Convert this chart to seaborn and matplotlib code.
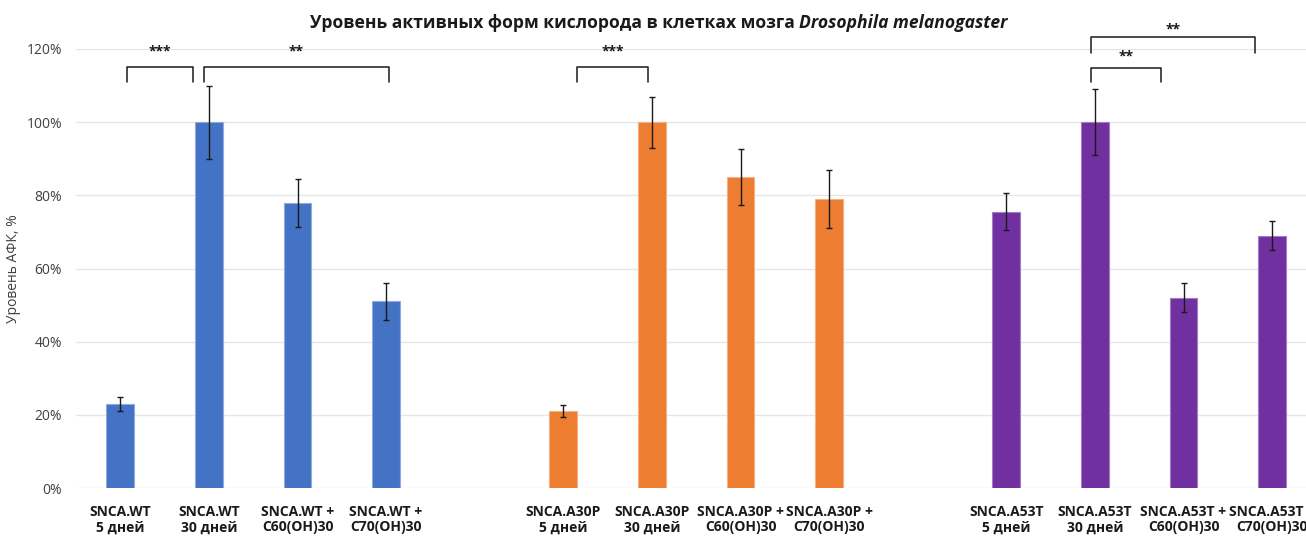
import matplotlib
matplotlib.use("Agg")
import matplotlib.pyplot as plt
import seaborn as sns
import pandas as pd

# Categories, in plotting order (blank slots separate the three lines)
labels = [
    "SNCA.WT\n5 дней", "SNCA.WT\n30 дней", "SNCA.WT +\nC60(OH)30", "SNCA.WT +\nC70(OH)30",
    " ",
    "SNCA.A30P\n5 дней", "SNCA.A30P\n30 дней", "SNCA.A30P +\nC60(OH)30", "SNCA.A30P +\nC70(OH)30",
    "  ",
    "SNCA.A53T\n5 дней", "SNCA.A53T\n30 дней", "SNCA.A53T +\nC60(OH)30", "SNCA.A53T +\nC70(OH)30",
]
lines = ["SNCA.WT", "SNCA.A30P", "SNCA.A53T"]

wt_values = [23, 100, 78, 51]
wt_errors = [2, 10, 6.6, 5]
a30p_values = [21, 100, 85, 79]
a30p_errors = [1.6, 7, 7.6, 8]
a53t_values = [75.5, 100, 52, 69]
a53t_errors = [5.1, 9, 4, 4]

line_colors = ["#4472C4", "#ED7D31", "#7030A0"]
edge_colors = ["#8FAADC", "#F4B183", "#A57BC6"]

# Significance brackets: (left x, right x, top y, leg bottom y, text, text y)
brackets = [
    (0.08, 0.82, 115.2, 110.9, "***", 119.3),
    (0.94, 3.03, 115.2, 110.9, "**", 119.3),
    (5.16, 5.96, 115.2, 110.9, "***", 119.3),
    (10.96, 11.75, 114.9, 110.9, "**", 117.9),
    (10.96, 12.81, 123.3, 118.9, "**", 125.4),
]

rows = []
blocks = [(wt_values, wt_errors), (a30p_values, a30p_errors), (a53t_values, a53t_errors)]
for g, (vals, errs) in enumerate(blocks):
    for k in range(4):
        rows.append({"label": labels[g * 5 + k], "line": lines[g],
                     "value": vals[k], "err": errs[k]})
df = pd.DataFrame(rows)

sns.set_theme(style="white")
plt.rcParams["font.family"] = ["Open Sans", "DejaVu Sans"]

fig = plt.figure(figsize=(13.06, 5.40), dpi=100)
W, H = 1306, 540
ax_left, ax_right = 76, 1316.4
ax_top, ax_bottom = 49, 488
ax = fig.add_axes([ax_left / W, 1 - ax_bottom / H,
                   (ax_right - ax_left) / W, (ax_bottom - ax_top) / H])

sns.barplot(data=df, x="label", y="value", hue="line", order=labels,
            hue_order=lines, palette=line_colors, saturation=1, dodge=False,
            width=0.312, errorbar=None, legend=False, ax=ax, zorder=2)

for patch in ax.patches:
    fc = matplotlib.colors.to_hex(patch.get_facecolor()).lower()
    for c, ec in zip(line_colors, edge_colors):
        if fc == c.lower():
            patch.set_edgecolor(ec)
            patch.set_linewidth(0.8)

xpos = [labels.index(l) for l in df["label"]]
ax.errorbar(xpos, df["value"], yerr=df["err"], fmt="none", ecolor="#1a1a1a",
            elinewidth=1.0, capsize=2.5, capthick=1.0, zorder=3)

ax.set_xlim(-0.5, 13.5)
ax.set_ylim(0, 120)
ax.set_yticks(range(0, 121, 20))
ax.set_yticklabels([f"{v}%" for v in range(0, 121, 20)], fontsize=10, color="#404040")
ax.yaxis.grid(True, color="#E6E6E6", linewidth=1.0, zorder=0)
ax.set_axisbelow(True)
for s in ax.spines.values():
    s.set_visible(False)
ax.tick_params(axis="y", length=0, pad=10)
ax.tick_params(axis="x", length=0, pad=12)
for t in ax.get_xticklabels():
    t.set_fontsize(10)
    t.set_fontweight("bold")
    t.set_color("#1a1a1a")
    t.set_linespacing(1.15)
ax.set_xlabel("")
ax.set_ylabel("Уровень АФК, %", fontsize=10, color="#404040", labelpad=4)

for x0, x1, ytop, ybot, txt, ty in brackets:
    ax.plot([x0, x0, x1, x1], [ybot, ytop, ytop, ybot], color="#1a1a1a",
            linewidth=1.1, clip_on=False, zorder=4)
    ax.text((x0 + x1) / 2, ty, txt, ha="center", va="center", fontsize=10,
            fontweight="bold", color="#1a1a1a", clip_on=False)

# Title: regular bold part followed by the italic species name
part1 = "Уровень активных форм кислорода в клетках мозга "
part2 = "Drosophila melanogaster"
renderer = fig.canvas.get_renderer()
ty = 1 - 23 / H
t1 = fig.text(0, ty, part1, fontsize=12.6, fontweight="bold", va="center", color="#1a1a1a")
t2 = fig.text(0, ty, part2, fontsize=12.6, fontweight="bold", style="italic",
              va="center", color="#1a1a1a")
w1 = t1.get_window_extent(renderer).width
w2 = t2.get_window_extent(renderer).width
x_start = (659 - (w1 + w2) / 2) / W
t1.set_x(x_start)
t2.set_x(x_start + w1 / W)

fig.savefig("out.png", dpi=100)
